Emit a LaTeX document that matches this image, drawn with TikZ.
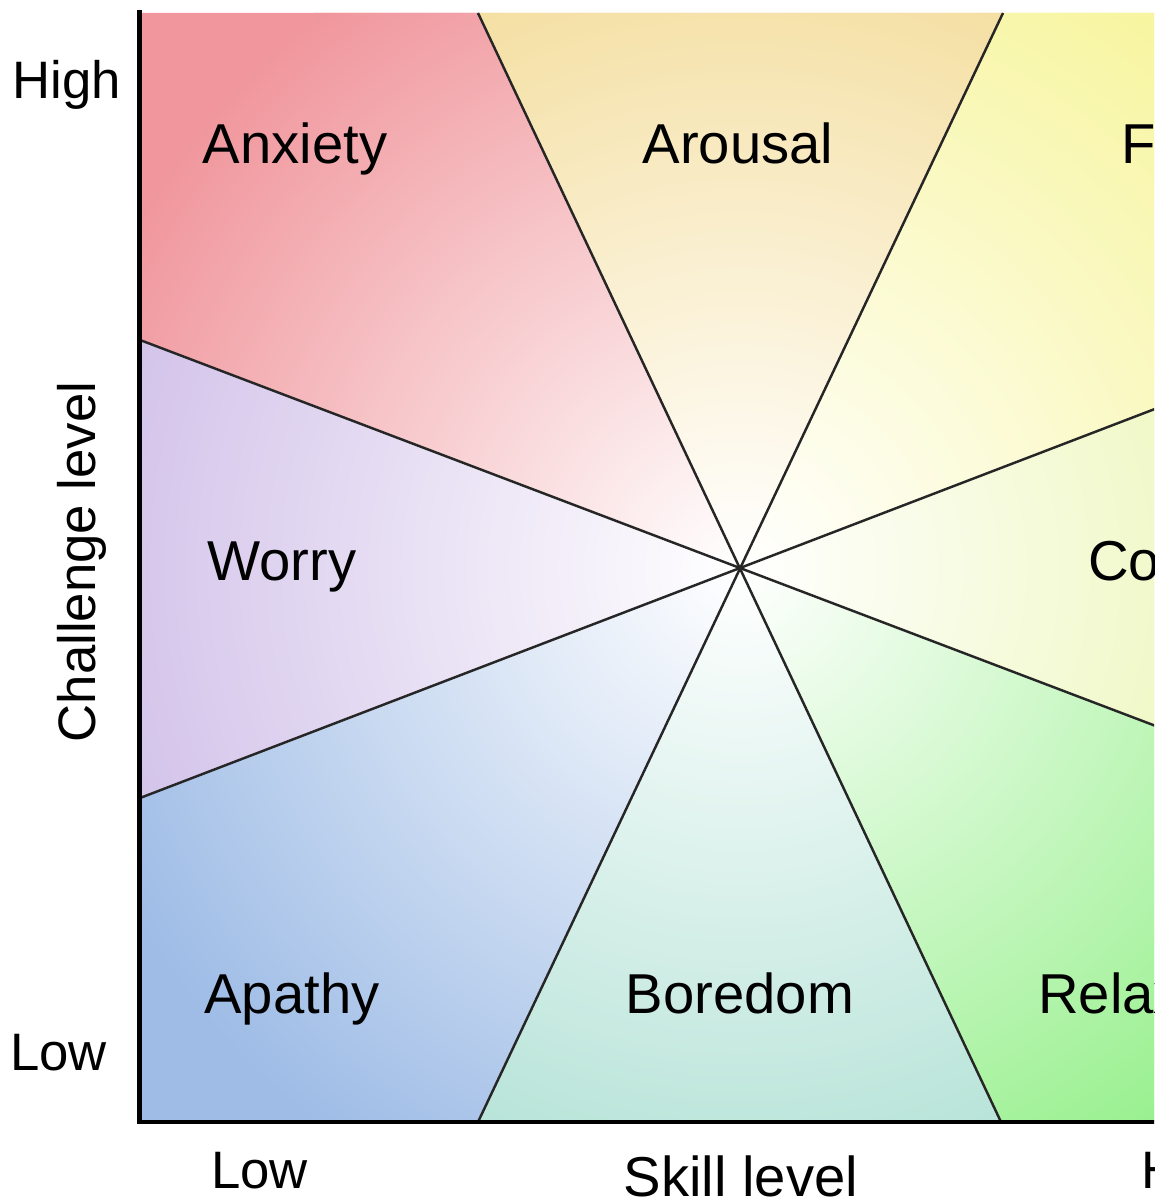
\documentclass[tikz,border=0pt]{standalone}
\usepackage{fontspec}
\setmainfont{Liberation Sans}
\usetikzlibrary{positioning}

\definecolor{anxietyred}{RGB}{240,150,156}
\definecolor{arousalsand}{RGB}{243,219,150}
\definecolor{flowyellow}{RGB}{247,245,158}
\definecolor{controllime}{RGB}{232,244,168}
\definecolor{relaxgreen}{RGB}{152,240,142}
\definecolor{boredomteal}{RGB}{174,224,211}
\definecolor{apathyblue}{RGB}{158,188,230}
\definecolor{worrylilac}{RGB}{207,190,232}

\begin{document}
\begin{tikzpicture}[
  x=0.02cm,y=-0.02cm,
  sector/.style={fill=#1,
    path picture={\shade[inner color=white, outer color=#1] (ctr) circle (14cm);}},
  divider/.style={draw=black!85, line width=1.4pt},
  axisline/.style={draw=black, line width=2.8pt},
  zone/.style={font=\fontsize{32}{38}\selectfont, anchor=base, inner sep=0pt},
  ticklabel/.style={font=\fontsize{30}{36}\selectfont, anchor=base west,
                    inner sep=0pt},
  axistitle/.style={font=\fontsize{31}{36}\selectfont, anchor=base,
                    inner sep=0pt}
]

% Page frame; everything past the right edge is cut off.
\clip (0,0) rectangle (1154,1203);
\fill[white] (0,0) rectangle (1154,1203);

% Centre of the chart and the ends of the four dividing lines.
\coordinate (ctr) at (740,568);
\coordinate (topA) at (478,13);
\coordinate (topB) at (1003,13);
\coordinate (botA) at (1001,1122);
\coordinate (botB) at (478,1122);
\coordinate (leftA) at (140,340);
\coordinate (leftB) at (140,798);
\coordinate (rightA) at (1340,796);
\coordinate (rightB) at (1340,338);

% Eight sectors, each fading to white towards the centre.
\path[sector=anxietyred] (ctr) -- (leftA) -- (140,13) -- (topA) -- cycle;
\path[sector=arousalsand] (ctr) -- (topA) -- (topB) -- cycle;
\path[sector=flowyellow] (ctr) -- (topB) -- (1340,13) -- (rightB) -- cycle;
\path[sector=controllime] (ctr) -- (rightB) -- (rightA) -- cycle;
\path[sector=relaxgreen] (ctr) -- (rightA) -- (1340,1122) -- (botA) -- cycle;
\path[sector=boredomteal] (ctr) -- (botA) -- (botB) -- cycle;
\path[sector=apathyblue] (ctr) -- (botB) -- (140,1122) -- (leftB) -- cycle;
\path[sector=worrylilac] (ctr) -- (leftB) -- (leftA) -- cycle;

% Dividing lines through the centre.
\draw[divider] (topA) -- (botA);
\draw[divider] (topB) -- (botB);
\draw[divider] (leftA) -- (rightA);
\draw[divider] (leftB) -- (rightB);

% Axes.
\draw[axisline] (139.5,10) -- (139.5,1122) -- (1200,1122);

% Sector labels.
\node[zone] (anxiety) at (295,163) {Anxiety};
\node[zone] (arousal) at (738,163) {Arousal};
\node[zone, anchor=base west] (flow) at (1121,163) {Flow};
\node[zone] (worry) at (282,580) {Worry};
\node[zone, anchor=base west] (control) at (1088,580) {Control};
\node[zone] (apathy) at (292,1013) {Apathy};
\node[zone] (boredom) at (740,1013) {Boredom};
\node[zone, anchor=base west] (relaxation) at (1038,1013) {Relaxation};

% Axis scale labels and titles.
\node[ticklabel] (chigh) at (12,98) {High};
\node[ticklabel] (clow) at (10,1070) {Low};
\node[ticklabel] (slow) at (211,1188) {Low};
\node[ticklabel] (shigh) at (1141,1188) {High};
\node[axistitle, font=\fontsize{30}{36}\selectfont, rotate=90] (challenge)
  at (95,562) {Challenge level};
\node[axistitle, font=\fontsize{32}{38}\selectfont] (skill)
  at (741,1196) {Skill level};

\end{tikzpicture}
\end{document}
